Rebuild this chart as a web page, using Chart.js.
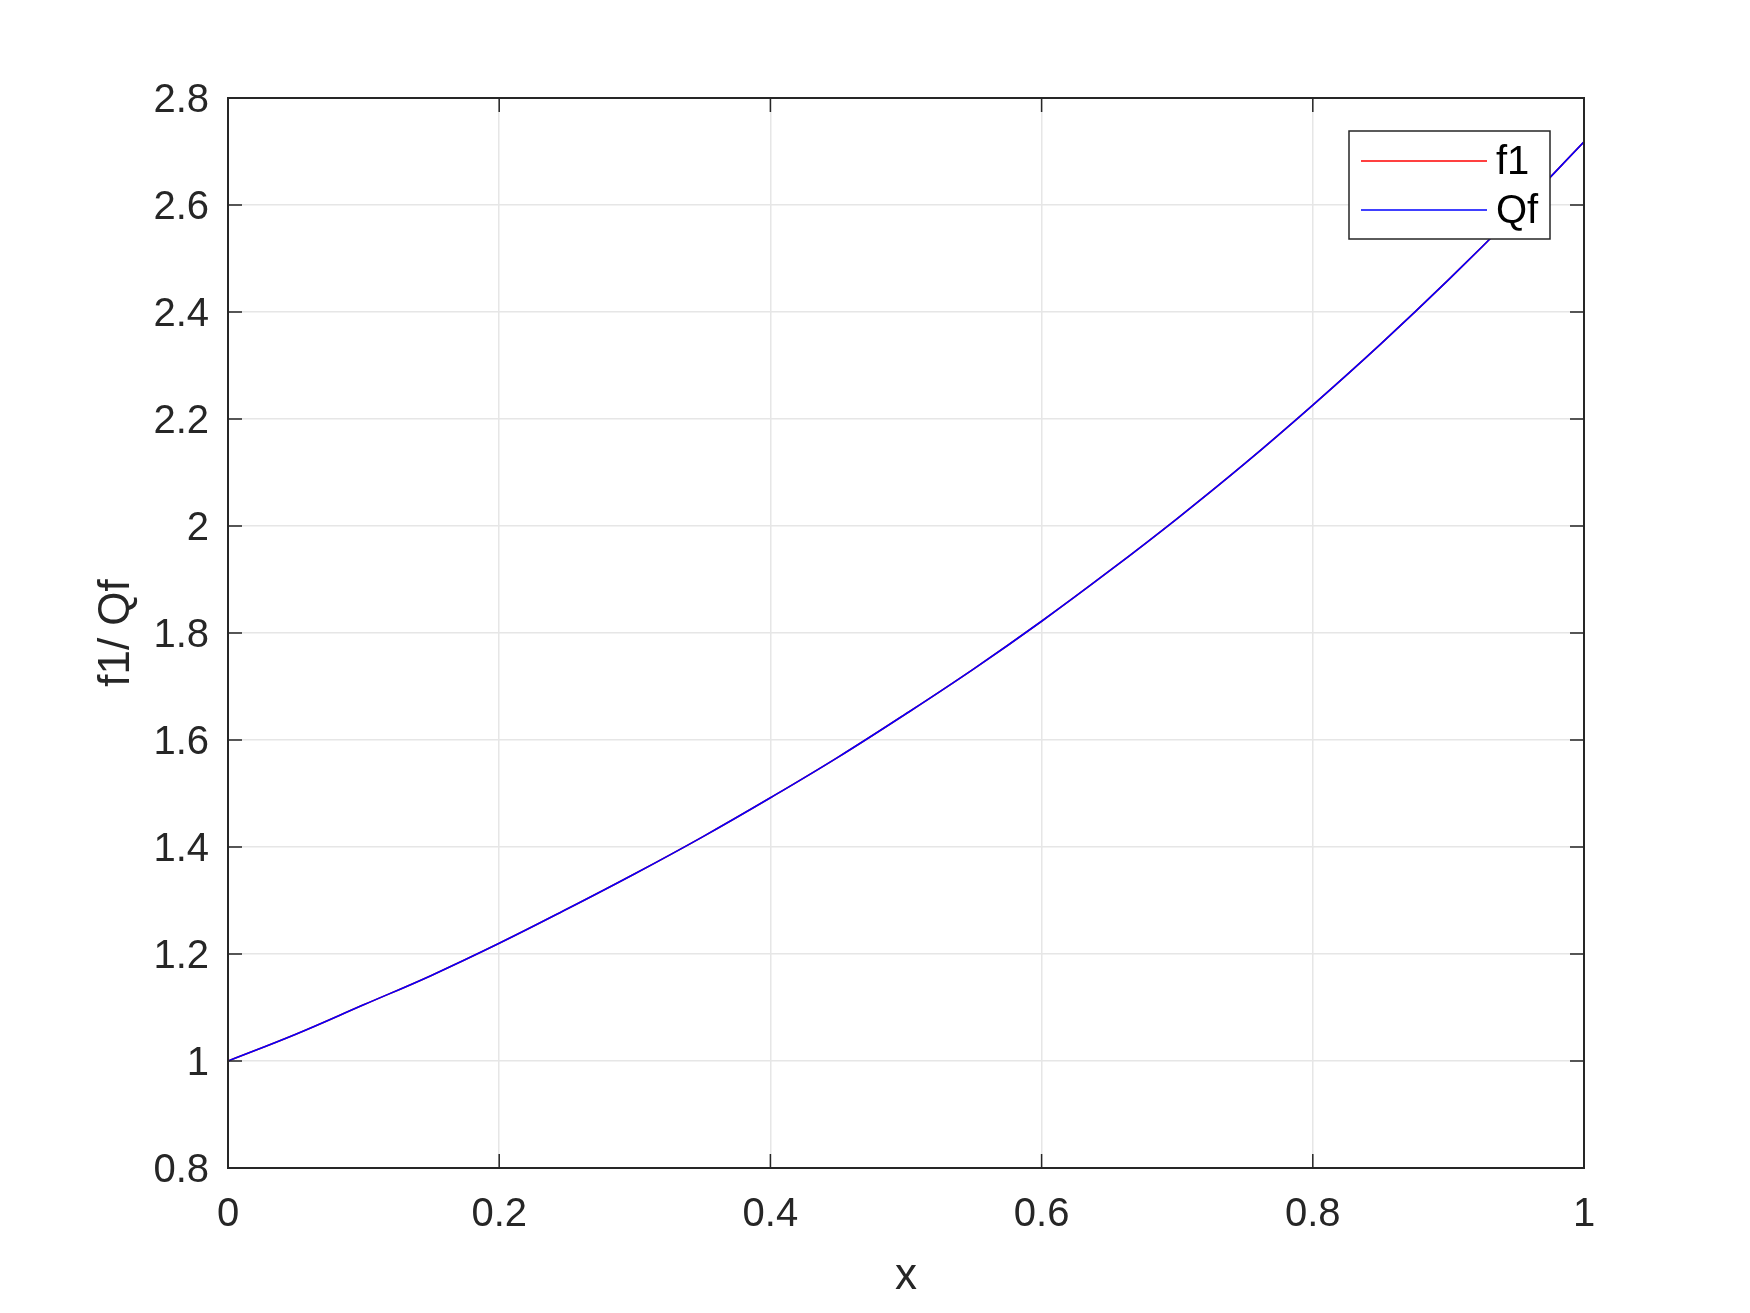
<!DOCTYPE html>
<html>
<head>
<meta charset="utf-8">
<script src="https://cdn.jsdelivr.net/npm/chart.js@4.4.1/dist/chart.umd.min.js"></script>
<style>
  html, body { margin: 0; padding: 0; background: #fff; }
  #wrap { width: 1750px; height: 1313px; }
</style>
</head>
<body>
<div id="wrap"><canvas id="myChart" width="1750" height="1313"></canvas></div>
<script>
// valores
const xValores = [0, 0.05, 0.1, 0.15, 0.2, 0.25, 0.3, 0.35, 0.4, 0.45, 0.5,
  0.55, 0.6, 0.65, 0.7, 0.75, 0.8, 0.85, 0.9, 0.95, 1];
const f1Valores = [1.00, 1.05, 1.105, 1.16, 1.22, 1.284, 1.35, 1.419, 1.492, 1.568, 1.649,
  1.733, 1.822, 1.916, 2.014, 2.117, 2.226, 2.34, 2.46, 2.586, 2.718];
const qfValores = [1.00, 1.05, 1.105, 1.16, 1.22, 1.284, 1.35, 1.419, 1.492, 1.568, 1.649,
  1.733, 1.822, 1.916, 2.014, 2.117, 2.226, 2.34, 2.46, 2.586, 2.718];
const nombresSeries = ["f1", "Qf"];
const coloresSeries = ["#ff0000", "#0000ff"];
const xTicks = [0, 0.2, 0.4, 0.6, 0.8, 1];
const yTicks = [0.8, 1, 1.2, 1.4, 1.6, 1.8, 2, 2.2, 2.4, 2.6, 2.8];

const fuente = "'Liberation Sans', Arial, sans-serif";
const colorTexto = "#262626";

function puntos(ys) {
  return xValores.map((x, i) => ({ x: x, y: ys[i] }));
}

// marco, marcas interiores y leyenda al estilo matlab
const marcoPlugin = {
  id: "marco",
  afterDraw(chart) {
    const ctx = chart.ctx;
    const a = chart.chartArea;
    const sx = chart.scales.x, sy = chart.scales.y;
    const largo = 14;
    ctx.save();
    ctx.strokeStyle = colorTexto;
    ctx.lineWidth = 1.5;
    ctx.beginPath();
    xTicks.forEach(v => {
      const px = sx.getPixelForValue(v);
      ctx.moveTo(px, a.bottom); ctx.lineTo(px, a.bottom - largo);
      ctx.moveTo(px, a.top); ctx.lineTo(px, a.top + largo);
    });
    yTicks.forEach(v => {
      const py = sy.getPixelForValue(v);
      ctx.moveTo(a.left, py); ctx.lineTo(a.left + largo, py);
      ctx.moveTo(a.right, py); ctx.lineTo(a.right - largo, py);
    });
    ctx.stroke();
    ctx.lineWidth = 2;
    ctx.strokeRect(a.left, a.top, a.right - a.left, a.bottom - a.top);

    // leyenda (f1 arriba, Qf abajo)
    const lx = 1349, ly = 131, lw = 201, lh = 108;
    ctx.fillStyle = "#fff";
    ctx.fillRect(lx, ly, lw, lh);
    ctx.lineWidth = 1.5;
    ctx.strokeRect(lx, ly, lw, lh);
    ctx.font = "40px " + fuente;
    ctx.textBaseline = "middle";
    chart.data.datasets.forEach((ds, i) => {
      const yy = 161 + i * 49;
      ctx.strokeStyle = ds.borderColor;
      ctx.lineWidth = 1.5;
      ctx.beginPath();
      ctx.moveTo(1361, yy); ctx.lineTo(1487, yy);
      ctx.stroke();
      ctx.fillStyle = "#000";
      ctx.fillText(ds.label, 1496, yy + 2);
    });
    ctx.restore();
  }
};

const config = {
  type: "line",
  data: {
    datasets: nombresSeries.map((n, i) => ({
      label: n,
      data: puntos(i === 0 ? f1Valores : qfValores),
      borderColor: coloresSeries[i],
      borderWidth: 1.6,
      pointRadius: 0,
      tension: 0.4,
      fill: false,
      order: i === 0 ? 1 : 0 // Qf se dibuja encima
    }))
  },
  options: {
    responsive: false,
    animation: false,
    layout: { padding: { top: 98, right: 166, bottom: 0, left: 0 } },
    plugins: { legend: { display: false }, tooltip: { enabled: false } },
    scales: {
      x: {
        type: "linear",
        min: 0, max: 1,
        afterBuildTicks: s => { s.ticks = xTicks.map(v => ({ value: v })); },
        afterFit: s => { s.height = 145; },
        ticks: {
          font: { family: fuente, size: 40 },
          color: colorTexto,
          padding: 23,
          maxRotation: 0,
          callback: v => String(v)
        },
        grid: { color: "#e6e6e6", lineWidth: 1.5, drawTicks: false },
        border: { display: false },
        title: {
          display: true, text: "x",
          font: { family: fuente, size: 44 },
          color: colorTexto,
          padding: { top: 0, bottom: 10 }
        }
      },
      y: {
        type: "linear",
        min: 0.8, max: 2.8,
        afterBuildTicks: s => { s.ticks = yTicks.map(v => ({ value: v })); },
        afterFit: s => { s.width = 228; },
        ticks: {
          font: { family: fuente, size: 40 },
          color: colorTexto,
          padding: 19,
          labelOffset: 3,
          callback: v => String(v)
        },
        grid: { color: "#e6e6e6", lineWidth: 1.5, drawTicks: false },
        border: { display: false },
        title: {
          display: true, text: "f1/ Qf",
          font: { family: fuente, size: 44 },
          color: colorTexto,
          padding: { top: 90, bottom: 0 }
        }
      }
    }
  },
  plugins: [marcoPlugin]
};

new Chart(document.getElementById("myChart"), config);
</script>
</body>
</html>
